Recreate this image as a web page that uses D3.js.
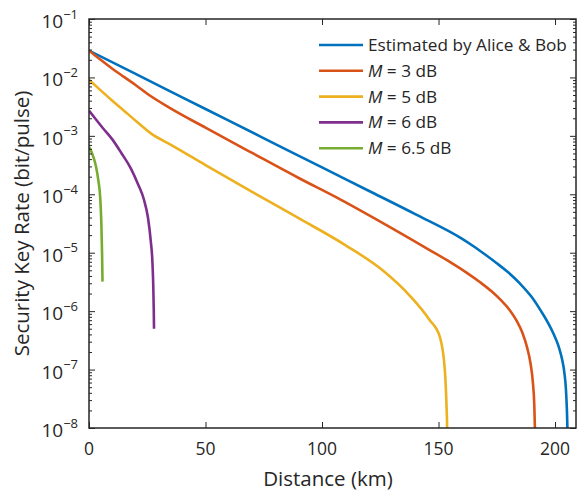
<!DOCTYPE html>
<html>
<head>
<meta charset="utf-8">
<script src="https://cdn.jsdelivr.net/npm/d3@7"></script>
<style>
  html, body { margin: 0; padding: 0; background: #fff; }
  svg { display: block; font-family: "Open Sans", "Noto Sans", sans-serif; }
</style>
</head>
<body>
<svg id="chart" width="578" height="491"></svg>
<script>
// Secure key rate (bit/pulse) versus fibre distance (km), one series per case.
const estimatedAB = [
  [0, 2.88e-2], [20, 1.15e-2], [40, 4.57e-3], [60, 1.82e-3], [80, 7.24e-4],
  [100, 2.88e-4], [120, 1.15e-4], [140, 4.57e-5], [160, 1.74e-5], [165, 1.29e-5],
  [170, 9.3e-6], [175, 6.6e-6], [180, 4.57e-6], [185, 2.95e-6], [190, 1.74e-6],
  [194, 1.0e-6], [197, 6.3e-7], [199.5, 3.98e-7], [201.5, 2.51e-7], [203, 1.51e-7],
  [204, 8.9e-8], [204.7, 4.47e-8], [205.1, 2.0e-8], [205.35, 8.9e-9]
];
const margin3dB = [
  [0, 2.88e-2], [5, 2.0e-2], [10, 1.41e-2], [15, 1.02e-2], [20, 7.4e-3],
  [25, 5.25e-3], [35, 2.95e-3], [50, 1.38e-3], [70, 5.1e-4], [90, 1.9e-4],
  [107, 8.5e-5], [125, 3.4e-5], [146, 1.12e-5], [155, 6.9e-6], [162, 4.57e-6],
  [168, 3.09e-6], [173, 2.14e-6], [177, 1.51e-6], [180.5, 1.05e-6], [183.5, 6.9e-7],
  [186, 4.27e-7], [188, 2.4e-7], [189.5, 1.26e-7], [190.5, 6.0e-8], [191.1, 2.5e-8],
  [191.4, 8.9e-9]
];
const margin5dB = [
  [0, 9.1e-3], [5, 6.0e-3], [10, 4.0e-3], [15, 2.7e-3], [20, 1.82e-3],
  [27, 1.07e-3], [35, 7.1e-4], [50, 3.16e-4], [70, 1.1e-4], [90, 3.9e-5],
  [110, 1.35e-5], [126, 5.0e-6], [138, 1.78e-6], [146, 7.2e-7], [150.6, 3.6e-7],
  [152.7, 1.0e-7], [153.4, 2.6e-8], [153.7, 1.0e-8], [153.8, 5e-9]
];
const margin6dB = [
  [0, 2.7e-3], [3, 1.9e-3], [6, 1.35e-3], [10, 8.7e-4], [14, 5.0e-4],
  [18, 2.75e-4], [21, 1.5e-4], [23.5, 8.3e-5], [25.3, 4.0e-5], [26.5, 1.6e-5],
  [27.2, 7.1e-6], [27.6, 2.5e-6], [27.8, 1.0e-6], [27.9, 5.0e-7]
];
const margin65dB = [
  [0, 6.5e-4], [1, 5.4e-4], [2, 4.2e-4], [3, 3.0e-4], [4, 1.74e-4],
  [4.8, 8.9e-5], [5.3, 3.2e-5], [5.6, 1.0e-5], [5.8, 3.2e-6]
];

const seriesNames = ["Estimated by Alice & Bob", "M = 3 dB", "M = 5 dB", "M = 6 dB", "M = 6.5 dB"];
const seriesColors = ["#0072BD", "#D95319", "#EDB120", "#7E2F8E", "#77AC30"];
const seriesData = [estimatedAB, margin3dB, margin5dB, margin6dB, margin65dB];

const xTicks = [0, 50, 100, 150, 200];
const yExponents = [-1, -2, -3, -4, -5, -6, -7, -8];

const plot = { left: 89, top: 19, right: 576, bottom: 428 };
const ink = "#262626";

const svg = d3.select("#chart");

const x = d3.scaleLinear().domain([0, 209]).range([plot.left, plot.right]);
const y = d3.scaleLog().domain([1e-8, 1e-1]).range([plot.bottom, plot.top]);

svg.append("defs").append("clipPath").attr("id", "plotClip")
  .append("rect")
  .attr("x", plot.left).attr("y", plot.top)
  .attr("width", plot.right - plot.left).attr("height", plot.bottom - plot.top);

// Curves
const line = d3.line()
  .x(d => x(d[0]))
  .y(d => y(d[1]))
  .curve(d3.curveMonotoneX);

const curves = svg.append("g").attr("clip-path", "url(#plotClip)");
seriesData.forEach((data, i) => {
  curves.append("path")
    .datum(data)
    .attr("fill", "none")
    .attr("stroke", seriesColors[i])
    .attr("stroke-width", 2.6)
    .attr("stroke-linejoin", "round")
    .attr("d", line);
});

// Axes with inward ticks on all four sides
const minorTicks = [];
for (let e = -8; e < -1; e++) {
  for (let m = 2; m <= 9; m++) minorTicks.push(m * Math.pow(10, e));
}
const majorVals = yExponents.map(e => Math.pow(10, e));

const axes = svg.append("g");
function styleAxis(g) {
  g.select(".domain").remove();
  g.selectAll(".tick line").attr("stroke", ink).attr("stroke-width", 1);
  g.selectAll(".tick text").remove();
}

axes.append("g").attr("transform", `translate(${plot.left},0)`)
  .call(d3.axisRight(y).tickValues(majorVals).tickSize(6)).call(styleAxis);
axes.append("g").attr("transform", `translate(${plot.left},0)`)
  .call(d3.axisRight(y).tickValues(minorTicks).tickSize(3)).call(styleAxis);
axes.append("g").attr("transform", `translate(${plot.right},0)`)
  .call(d3.axisLeft(y).tickValues(majorVals).tickSize(6)).call(styleAxis);
axes.append("g").attr("transform", `translate(${plot.right},0)`)
  .call(d3.axisLeft(y).tickValues(minorTicks).tickSize(3)).call(styleAxis);
axes.append("g").attr("transform", `translate(0,${plot.bottom})`)
  .call(d3.axisTop(x).tickValues(xTicks).tickSize(6)).call(styleAxis);
axes.append("g").attr("transform", `translate(0,${plot.top})`)
  .call(d3.axisBottom(x).tickValues(xTicks).tickSize(6)).call(styleAxis);

// Frame
axes.append("rect")
  .attr("x", plot.left).attr("y", plot.top)
  .attr("width", plot.right - plot.left).attr("height", plot.bottom - plot.top)
  .attr("fill", "none").attr("stroke", ink).attr("stroke-width", 1.5);

// X tick labels
svg.append("g").selectAll("text").data(xTicks).join("text")
  .attr("x", d => x(d)).attr("y", plot.bottom + 27)
  .attr("text-anchor", "middle")
  .attr("font-size", 17.5).attr("fill", ink)
  .text(d => d);

// Y tick labels: 10 with a superscript exponent
const yl = svg.append("g").selectAll("text").data(yExponents).join("text")
  .attr("x", plot.left - 11).attr("y", d => y(Math.pow(10, d)) + 9)
  .attr("text-anchor", "end")
  .attr("font-size", 19).attr("fill", ink);
yl.append("tspan").text("10");
yl.append("tspan").attr("dy", -9.5).attr("font-size", 13).text(d => "\u2212" + (-d));

// Axis titles
svg.append("text")
  .attr("x", 328).attr("y", 486)
  .attr("text-anchor", "middle").attr("font-size", 20.5).attr("fill", ink)
  .text("Distance (km)");

svg.append("text")
  .attr("transform", `translate(29,${(plot.top + plot.bottom) / 2}) rotate(-90)`)
  .attr("text-anchor", "middle").attr("font-size", 20.5).attr("fill", ink)
  .text("Security Key Rate (bit/pulse)");

// Legend
const legend = svg.append("g");
seriesNames.forEach((name, i) => {
  const ly = 45 + i * 25.8;
  legend.append("line")
    .attr("x1", 319).attr("x2", 363).attr("y1", ly).attr("y2", ly)
    .attr("stroke", seriesColors[i]).attr("stroke-width", 2.6);
  const t = legend.append("text")
    .attr("x", 368).attr("y", ly + 6)
    .attr("font-size", 17.2).attr("fill", ink);
  if (name.startsWith("M")) {
    t.append("tspan").attr("font-style", "italic").text("M");
    t.append("tspan").text(name.slice(1));
  } else {
    t.text(name);
  }
});
</script>
</body>
</html>
